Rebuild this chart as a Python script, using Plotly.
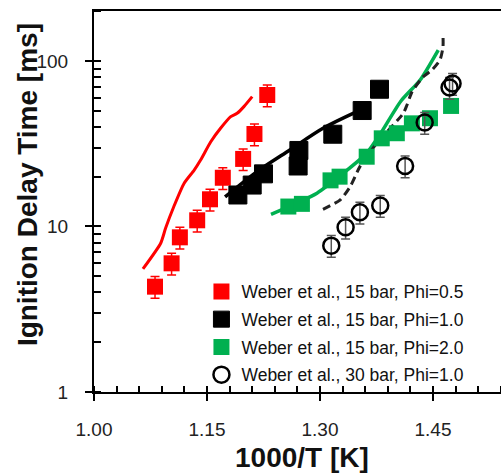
import plotly.graph_objects as go

# ---- data ----
red_x = [1.081, 1.103, 1.114, 1.137, 1.154, 1.171, 1.198, 1.213, 1.230]
red_y = [4.33, 5.99, 8.6, 10.9, 14.6, 19.7, 25.6, 36.2, 62.3]

red_model_x = [1.065, 1.0885, 1.095, 1.106, 1.1195, 1.133, 1.1415, 1.155, 1.168, 1.1815, 1.190, 1.199, 1.210]
red_model_y = [5.54, 7.92, 9.75, 13.2, 18.2, 21.9, 25.2, 32.5, 39.2, 46.1, 48.3, 53.0, 60.9]

black_x = [1.191, 1.210, 1.225, 1.272, 1.271, 1.317, 1.356, 1.379]
black_y = [15.5, 17.8, 20.8, 28.8, 23.2, 36.1, 50.2, 67.5]

black_model_x = [1.174, 1.216, 1.260, 1.304, 1.349]
black_model_y = [15.1, 21.4, 29.0, 39.2, 49.4]

green_x = [1.258, 1.276, 1.314, 1.326, 1.362, 1.382, 1.402, 1.422, 1.446, 1.474]
green_y = [13.2, 13.7, 19.0, 20.0, 26.4, 34.1, 36.6, 42.0, 45.1, 53.5]

green_model_x = [1.235, 1.296, 1.336, 1.362, 1.380, 1.4075, 1.433, 1.457]
green_model_y = [11.85, 15.9, 21.9, 27.7, 36.2, 57.3, 76.8, 116.5]

dash_model_x = [1.304, 1.327, 1.340, 1.353, 1.3753, 1.4106, 1.4155, 1.4221, 1.4367, 1.4487, 1.4593, 1.4633, 1.4633]
dash_model_y = [12.7, 14.5, 17.4, 23.0, 31.8, 48.3, 54.2, 65.0, 80.0, 88.3, 101.4, 121.5, 143.6]

circ_x = [1.315, 1.334, 1.353, 1.380, 1.413, 1.439, 1.472, 1.476]
circ_y = [7.66, 9.89, 12.2, 13.4, 23.2, 42.5, 69.2, 73.1]

x_ticks = [1.00, 1.15, 1.30, 1.45]
x_tick_text = ["1.00", "1.15", "1.30", "1.45"]

names = ["Weber et al., 15 bar, Phi=0.5", "Weber et al., 15 bar, Phi=1.0",
         "Weber et al., 15 bar, Phi=2.0", "Weber et al., 30 bar, Phi=1.0"]

RED = "#FF0000"
GREEN = "#00B050"
BLACK = "#000000"
FONT = "Liberation Sans, Arial, sans-serif"

fig = go.Figure()

# model lines (not in legend)
fig.add_trace(go.Scatter(x=red_model_x, y=red_model_y, mode="lines",
                         line=dict(color=RED, width=3, shape="spline", smoothing=0.6),
                         showlegend=False, hoverinfo="skip"))
fig.add_trace(go.Scatter(x=black_model_x, y=black_model_y, mode="lines",
                         line=dict(color=BLACK, width=3.5, shape="spline", smoothing=0.8),
                         showlegend=False, hoverinfo="skip"))
fig.add_trace(go.Scatter(x=green_model_x, y=green_model_y, mode="lines",
                         line=dict(color=GREEN, width=3.5, shape="spline", smoothing=0.6),
                         showlegend=False, hoverinfo="skip"))
fig.add_trace(go.Scatter(x=dash_model_x, y=dash_model_y, mode="lines",
                         line=dict(color="#222222", width=3, dash="8px,5px", shape="spline", smoothing=0.6),
                         showlegend=False, hoverinfo="skip"))

# experimental data
fig.add_trace(go.Scatter(x=red_x, y=red_y, mode="markers", name=names[0], legendgroup="g1",
                         marker=dict(symbol="square", size=16, color=RED),
                         error_y=dict(type="percent", value=15, color=RED, thickness=1.5, width=4.5)))
fig.add_trace(go.Scatter(x=black_x, y=black_y, mode="markers", name=names[1], legendgroup="g2",
                         marker=dict(symbol="square", size=18, color=BLACK,
                                     line=dict(color=BLACK, width=1))))
fig.add_trace(go.Scatter(x=green_x, y=green_y, mode="markers", name=names[2], legendgroup="g3",
                         marker=dict(symbol="square", size=16, color=GREEN)))
fig.add_trace(go.Scatter(x=circ_x, y=circ_y, mode="markers", name=names[3], legendgroup="g4",
                         marker=dict(symbol="circle-open", size=16, color=BLACK,
                                     line=dict(color=BLACK, width=2.5)),
                         error_y=dict(type="percent", value=15, color="#555555", thickness=1.5, width=4.5)))

fig.update_layout(
    width=501, height=475,
    margin=dict(l=94, r=0, t=11, b=83),
    paper_bgcolor="white", plot_bgcolor="white",
    font=dict(family=FONT, color="#222222"),
    legend=dict(x=0.264, y=0.311, xanchor="left", yanchor="top", tracegroupgap=2,
                bgcolor="rgba(0,0,0,0)", font=dict(family=FONT, size=17.5, color="#111111")),
    xaxis=dict(range=[1.0, 1.5403], tickvals=x_ticks, ticktext=x_tick_text,
               showline=True, linecolor=BLACK, linewidth=2, mirror=True,
               ticks="outside", ticklen=7, tickwidth=1.5, tickcolor=BLACK,
               ticklabelstandoff=12,
               tickfont=dict(family=FONT, size=19, color="#222222"),
               minor=dict(dtick=0.03, tick0=1.0, ticks="inside", ticklen=6, tickwidth=1.5, tickcolor=BLACK),
               showgrid=False, zeroline=False),
    yaxis=dict(type="log", range=[0, 2.302], dtick=1,
               showline=True, linecolor=BLACK, linewidth=2, mirror=False,
               ticks="outside", ticklen=7, tickwidth=1.5, tickcolor=BLACK,
               ticklabelstandoff=13,
               tickfont=dict(family=FONT, size=19, color="#222222"),
               minor=dict(dtick="D1", ticks="inside", ticklen=7, tickwidth=1.5, tickcolor=BLACK),
               showgrid=False, zeroline=False),
    annotations=[
        dict(text="<b>1000/T [K]</b>", xref="paper", yref="paper", x=0.51, y=-0.171,
             xanchor="center", yanchor="middle", showarrow=False,
             font=dict(family=FONT, size=28, color="#111111")),
        dict(text="<b>Ignition Delay Time [ms]</b>", xref="paper", yref="paper", x=-0.1646, y=0.543,
             xanchor="center", yanchor="middle", textangle=-90, showarrow=False,
             font=dict(family=FONT, size=28, color="#111111")),
    ],
)

fig.write_html("out.html")
